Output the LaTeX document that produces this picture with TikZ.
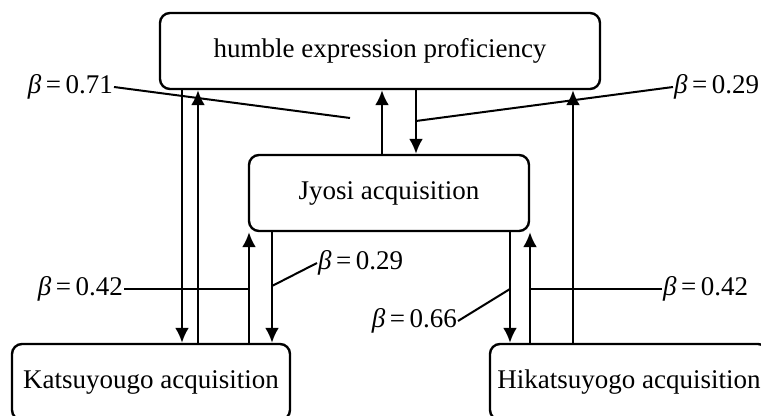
\documentclass[tikz,border=0pt]{standalone}
\usepackage{fontspec}
\setmainfont{Liberation Serif}
\usetikzlibrary{arrows.meta}

\begin{document}
\begin{tikzpicture}[->,>={Latex[length=7.5pt,width=7pt]},x=0.5pt,y=-0.5pt,line width=1.2pt,
    font=\fontsize{13.5}{15}\selectfont]
  \tikzstyle{box}=[draw,rounded corners=5pt,minimum height=38pt,inner sep=0pt]
  \tikzstyle{beta}=[inner sep=0pt]
  \tikzstyle{tag}=[-,line width=1pt]
  \useasboundingbox (0,0) rectangle (761,416);
  \clip (0,0) rectangle (761,416);

  \node[box,minimum width=220pt] (H) at (380,51) {humble expression proficiency};
  \node[box,minimum width=140pt] (J) at (389,193) {Jyosi acquisition};
  \node[box,minimum width=139pt] (K) at (151,382) {Katsuyougo acquisition};
  \node[box,minimum width=139pt] (N) at (629,382) {Hikatsuyogo acquisition};

  % paths between the boxes
  \draw (H.south -| 182,0) -- (K.north -| 182,0);
  \draw (K.north -| 198,0) -- (H.south -| 198,0);
  \draw (K.north -| 249,0) -- (J.south -| 249,0);
  \draw (J.south -| 272,0) -- (K.north -| 272,0);
  \draw (J.north -| 382,0) -- (H.south -| 382,0);
  \draw (H.south -| 416,0) -- (J.north -| 416,0);
  \draw (J.south -| 510,0) -- (N.north -| 510,0);
  \draw (N.north -| 530,0) -- (J.south -| 530,0);
  \draw (N.north -| 573,0) -- (H.south -| 573,0);

  % coefficients
  \node[beta,anchor=east] (b71) at (114,87) {\textit{β}\,=\,0.71};
  \node[beta,anchor=west] (b29a) at (673,87) {\textit{β}\,=\,0.29};
  \node[beta,anchor=east] (b42a) at (124,289) {\textit{β}\,=\,0.42};
  \node[beta,anchor=west] (b29b) at (317,263) {\textit{β}\,=\,0.29};
  \node[beta,anchor=east] (b66) at (458,321) {\textit{β}\,=\,0.66};
  \node[beta,anchor=west] (b42b) at (662,289) {\textit{β}\,=\,0.42};

  \coordinate (c71) at (350,118);
  \coordinate (c29a) at (416,121);
  \coordinate (c29b) at (272,286);
  \coordinate (c66) at (510,289);

  \draw[tag] (b71.east) -- (c71);
  \draw[tag] (b29a.west) -- (c29a);
  \draw[tag] (b42a.east) -- (b42a.east -| 249,0);
  \draw[tag] (b29b.west) -- (c29b);
  \draw[tag] (b66.east) -- (c66);
  \draw[tag] (b42b.west) -- (b42b.west -| 530,0);
\end{tikzpicture}
\end{document}
